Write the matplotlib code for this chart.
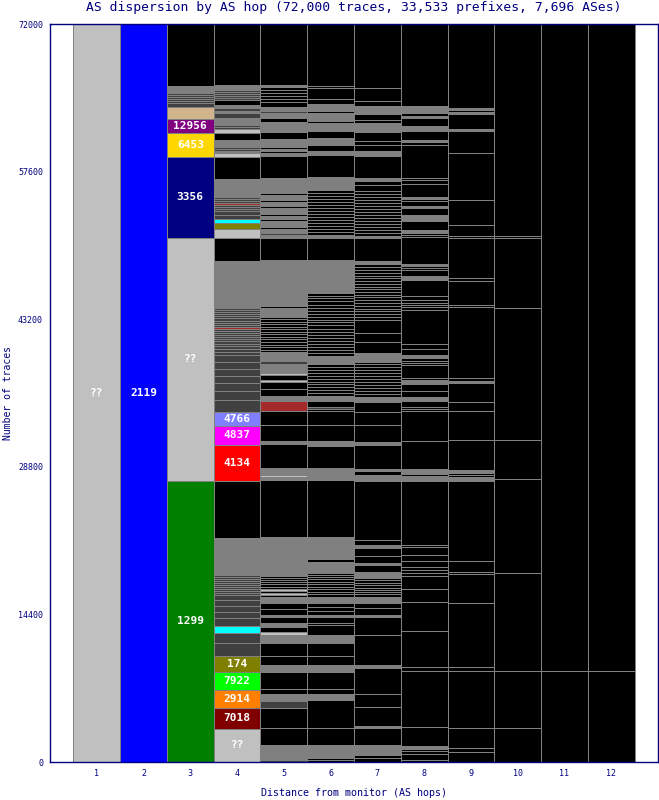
import matplotlib
matplotlib.use("Agg")
import matplotlib.pyplot as plt

# colours of the plain segment kinds
kind_colors = {'k': '#000000', 'g': '#808080', 'd': '#404040', 'l': '#c0c0c0',
               'r': '#a52a2a', 'c': '#00ffff', 'o': '#808000', 't': '#d2b48c'}

# colours of the labelled ASes
as_colors = {'??': '#c0c0c0', '2119': '#0000ff', '1299': '#008000', '3356': '#000080',
             '6453': '#ffd700', '12956': '#800080', '4134': '#ff0000', '4837': '#ff00ff',
             '4766': '#8080ff', '174': '#808000', '7922': '#00ff00', '2914': '#ff8000',
             '7018': '#800000'}

# segments per hop, bottom to top: (traces, kind or AS)
hop1 = [(72000, '??')]
hop2 = [(72000, '2119')]
hop3 = [(27420, '1299'), (23710, '??'), (7900, '3356'), (2340, '6453'), (1370, '12956'),
        (1170, 't'), (390, 'd'), (200, 'd'), (200, 'd'), (190, 'd'), (200, 'd'), (190, 'd'),
        (680, 'g'), (6100, 'k')]
hop4 = [(3220, '??'), (2050, '7018'), (1760, '2914'), (1760, '7922'), (1560, '174'),
        (1270, 'd'), (980, 'd'), (680, 'c'), (780, 'd'), (590, 'd'), (590, 'd'), (590, 'd'),
        (490, 'd'), (200, 'd'), (190, 'd'), (200, 'd'), (190, 'd'), (200, 'd'), (200, 'd'),
        (190, 'd'), (200, 'd'), (190, 'd'), (200, 'd'),
        (3610, 'g'), (5560, 'k'),
        (3510, '4134'), (1850, '4837'), (1370, '4766'),
        (1170, 'd'), (880, 'd'), (780, 'd'), (680, 'd'), (680, 'd'), (680, 'd'), (680, 'd'),
        (290, 'd'), (290, 'd'), (240, 'd'), (240, 'd'), (240, 'd'), (240, 'd'), (200, 'd'),
        (200, 'd'), (200, 'd'), (200, 'd'), (200, 'd'), (200, 'r'), (200, 'd'), (200, 'd'),
        (200, 'd'), (200, 'd'), (200, 'd'), (200, 'd'), (200, 'd'), (200, 'd'), (200, 'd'),
        (4590, 'g'), (2240, 'k'), (880, 'l'), (590, 'o'), (390, 'c'), (390, 'd'), (390, 'd'),
        (200, 'd'), (200, 'd'), (200, 'd'), (200, 'r'), (200, 'd'), (200, 'd'), (200, 'd'),
        (1760, 'g'), (2150, 'k'), (390, 'l'), (200, 'g'), (200, 'd'), (200, 'd'), (680, 'g'),
        (680, 'k'), (390, 'l'), (200, 'd'), (200, 'd'), (290, 'g'), (390, 'g'), (490, 'd'),
        (200, 'g'), (200, 'd'), (290, 'g'), (490, 'k'), (200, 'd'), (200, 'd'), (200, 'd'),
        (200, 'd'), (180, 'd'), (490, 'g'), (6100, 'k')]
hop5 = [(200, 'd'), (1460, 'g'), (1660, 'k'), (1950, 'k'), (680, 'd'), (680, 'g'), (490, 'k'),
        (1660, 'k'), (680, 'g'), (880, 'k'), (1270, 'k'), (780, 'g'), (290, 'l'), (490, 'k'),
        (390, 'g'), (590, 'k'), (200, 'g'), (590, 'k'), (590, 'k'), (590, 'g'),
        (200, 'k'), (200, 'l'), (200, 'k'), (200, 'l'), (200, 'k'), (200, 'k'), (200, 'k'),
        (200, 'k'), (200, 'k'), (200, 'k'),
        (3800, 'g'), (5560, 'k'),
        (290, 'g'), (200, 'l'), (100, 'd'), (590, 'g'), (2340, 'k'), (290, 'g'), (1560, 'k'),
        (1370, 'k'), (980, 'r'), (490, 'g'), (680, 'k'), (680, 'k'), (200, 'l'), (490, 'k'),
        (200, 'l'), (880, 'g'), (290, 'd'), (880, 'g'),
        (250, 'k'), (240, 'k'), (250, 'k'), (240, 'k'), (250, 'k'), (240, 'k'), (250, 'k'),
        (240, 'k'), (250, 'k'), (240, 'k'), (250, 'k'), (240, 'k'), (250, 'k'), (230, 'k'),
        (880, 'g'), (200, 'k'), (4490, 'g'), (2150, 'k'),
        (290, 'g'), (200, 'd'), (390, 'g'), (200, 'k'), (590, 'g'), (200, 'k'), (290, 'g'),
        (200, 'k'), (590, 'g'), (200, 'k'), (390, 'g'), (200, 'k'), (490, 'g'), (200, 'k'),
        (1420, 'g'), (2150, 'k'), (290, 'g'), (200, 'k'), (200, 'g'), (200, 'k'), (780, 'g'),
        (680, 'k'), (980, 'g'), (390, 'k'), (490, 'g'), (200, 'd'), (390, 'g'),
        (490, 'k'), (290, 'k'), (290, 'k'), (290, 'k'), (290, 'k'), (290, 'k'), (200, 'g'),
        (6200, 'k')]
hop6 = [(200, 'k'), (200, 'k'), (1270, 'g'), (1660, 'k'), (2730, 'k'), (590, 'g'), (490, 'k'),
        (1660, 'k'), (680, 'g'), (880, 'k'), (1270, 'k'), (780, 'g'),
        (980, 'k'), (200, 'k'), (590, 'k'), (200, 'g'), (390, 'k'), (390, 'k'), (390, 'k'),
        (590, 'g'),
        (250, 'k'), (230, 'k'), (240, 'k'), (230, 'k'), (250, 'k'), (230, 'k'), (240, 'k'),
        (230, 'k'), (240, 'k'), (200, 'k'),
        (490, 'g'), (100, 'k'), (490, 'g'), (200, 'k'), (2150, 'g'), (5560, 'k'),
        (490, 'g'), (100, 'k'), (590, 'g'), (2150, 'k'), (490, 'g'), (1560, 'k'), (1370, 'k'),
        (200, 'k'), (200, 'd'), (590, 'k'), (490, 'g'),
        (300, 'k'), (300, 'k'), (250, 'k'), (300, 'k'), (250, 'k'), (300, 'k'), (300, 'k'),
        (250, 'k'), (300, 'k'), (300, 'k'), (270, 'k'),
        (780, 'g'),
        (300, 'k'), (300, 'k'), (250, 'k'), (350, 'k'), (300, 'k'), (300, 'k'), (250, 'k'),
        (300, 'k'), (300, 'k'), (350, 'k'), (300, 'k'), (250, 'k'), (300, 'k'), (300, 'k'),
        (250, 'k'), (300, 'k'), (300, 'k'), (350, 'k'), (300, 'k'), (250, 'k'), (300, 'k'),
        (780, 'g'), (100, 'k'), (390, 'g'), (100, 'k'), (1850, 'g'), (2150, 'k'), (200, 'g'),
        (300, 'k'), (290, 'k'), (300, 'k'), (280, 'k'), (300, 'k'), (290, 'k'), (300, 'k'),
        (290, 'k'), (300, 'k'), (280, 'k'), (300, 'k'), (290, 'k'), (300, 'k'), (290, 'k'),
        (280, 'k'),
        (1270, 'g'), (2150, 'k'), (390, 'g'), (590, 'k'), (680, 'g'), (680, 'k'),
        (780, 'g'), (200, 'k'), (780, 'g'), (200, 'k'), (670, 'g'),
        (490, 'k'), (1070, 'k'), (200, 'k'), (6300, 'k')]
hop7 = [(390, 'k'), (290, 'k'), (980, 'g'), (1660, 'k'), (200, 'g'), (1850, 'k'), (1270, 'k'),
        (2540, 'k'), (290, 'g'), (2930, 'k'),
        (1760, 'k'), (200, 'g'), (680, 'k'), (490, 'k'), (590, 'g'),
        (250, 'k'), (200, 'k'), (250, 'k'), (200, 'k'), (250, 'k'), (200, 'k'), (250, 'k'),
        (250, 'k'),
        (590, 'g'), (680, 'k'), (200, 'g'), (680, 'k'), (780, 'k'), (290, 'g'), (490, 'k'),
        (5760, 'k'),
        (590, 'g'), (390, 'k'), (200, 'g'), (2340, 'k'),
        (290, 'g'), (1660, 'k'), (1270, 'k'), (980, 'k'), (490, 'g'),
        (300, 'k'), (250, 'k'), (300, 'k'), (300, 'k'), (250, 'k'), (350, 'k'), (300, 'k'),
        (250, 'k'), (300, 'k'), (300, 'k'), (250, 'k'), (260, 'k'),
        (880, 'g'), (1070, 'k'), (880, 'k'), (1270, 'k'),
        (270, 'k'), (280, 'k'), (260, 'k'), (270, 'k'), (280, 'k'), (250, 'k'), (270, 'k'),
        (280, 'k'), (260, 'k'), (270, 'k'), (280, 'k'), (250, 'k'), (270, 'k'), (280, 'k'),
        (260, 'k'), (270, 'k'), (280, 'k'), (250, 'k'), (270, 'k'), (290, 'k'),
        (290, 'g'), (2240, 'k'), (200, 'g'),
        (290, 'k'), (300, 'k'), (280, 'k'), (300, 'k'), (290, 'k'), (300, 'k'), (290, 'k'),
        (300, 'k'), (280, 'k'), (300, 'k'), (290, 'k'), (300, 'k'), (290, 'k'), (300, 'k'),
        (280, 'k'),
        (590, 'k'), (390, 'k'), (290, 'g'), (2150, 'k'), (490, 'g'), (590, 'k'), (390, 'k'),
        (880, 'k'), (880, 'g'), (290, 'k'), (590, 'k'), (780, 'g'), (490, 'k'), (1270, 'k'),
        (6400, 'k')]
hop8 = [(200, 'k'), (590, 'k'), (290, 'k'), (200, 'k'), (290, 'g'), (1850, 'k'), (5460, 'k'),
        (390, 'k'), (3510, 'k'), (2830, 'k'), (1270, 'k'), (1270, 'k'), (290, 'k'), (290, 'k'),
        (290, 'k'), (590, 'k'), (590, 'k'), (780, 'k'), (200, 'k'), (6240, 'k'), (490, 'g'),
        (200, 'k'), (490, 'g'), (2730, 'k'), (2930, 'k'), (200, 'k'), (200, 'k'), (590, 'k'),
        (390, 'g'), (590, 'k'), (680, 'k'), (390, 'g'), (200, 'k'), (1270, 'k'), (200, 'k'),
        (200, 'k'), (200, 'k'), (290, 'g'), (590, 'k'), (490, 'k'), (3320, 'k'), (290, 'k'),
        (200, 'k'), (200, 'k'), (290, 'k'), (390, 'k'), (1560, 'k'), (390, 'g'), (590, 'k'),
        (200, 'k'), (200, 'k'), (200, 'g'), (2630, 'k'), (200, 'k'), (200, 'k'), (290, 'g'),
        (880, 'k'), (590, 'g'), (680, 'k'), (200, 'g'), (490, 'k'), (200, 'k'), (200, 'g'),
        (1270, 'k'), (390, 'k'), (200, 'k'), (3220, 'k'), (290, 'k'), (200, 'g'), (880, 'k'),
        (490, 'g'), (780, 'k'), (200, 'g'), (290, 'k'), (290, 'g'), (100, 'k'), (290, 'g'),
        (8100, 'k')]
hop9 = [(980, 'k'), (390, 'k'), (1950, 'k'), (5560, 'k'), (390, 'k'), (6240, 'k'), (2830, 'k'),
        (200, 'k'), (1070, 'k'), (7800, 'k'), (390, 'g'), (200, 'k'), (200, 'k'), (290, 'g'),
        (2930, 'k'), (2830, 'k'), (880, 'k'), (1850, 'k'), (200, 'g'), (290, 'k'), (6930, 'k'),
        (200, 'k'), (2340, 'k'), (290, 'k'), (3900, 'k'), (200, 'k'), (1070, 'k'), (2440, 'k'),
        (4590, 'k'), (2150, 'k'), (200, 'g'), (1460, 'k'), (200, 'g'), (200, 'k'), (200, 'g'),
        (8200, 'k')]
hop10 = [(3320, 'k'), (5560, 'k'), (9560, 'k'), (9170, 'k'), (3800, 'k'), (12880, 'k'),
         (6830, 'k'), (200, 'k'), (20700, 'k')]
hop11 = [(8880, 'k'), (63200, 'k')]
hop12 = [(8880, 'k'), (63200, 'k')]

hops = [hop1, hop2, hop3, hop4, hop5, hop6, hop7, hop8, hop9, hop10, hop11, hop12]
yticks = [0, 14400, 28800, 43200, 57600, 72000]

navy = '#000080'
mono = 'DejaVu Sans Mono'

fig = plt.figure(figsize=(6.59, 8.0), dpi=100)
ax = fig.add_axes([50 / 659, 38 / 800, 608 / 659, 738 / 800])

for i, segs in enumerate(hops):
    x = i + 1
    bottom = 0
    for h, kind in segs:
        if kind in as_colors:
            col = as_colors[kind]
        else:
            col = kind_colors[kind]
        ax.bar(x, h, bottom=bottom, width=1.0, color=col, edgecolor='#808080',
               linewidth=0.6, antialiased=False)
        if kind in as_colors:
            ax.text(x, bottom + h / 2, kind, color='white', ha='center', va='center',
                    fontsize=8, fontweight='bold', family=mono)
        bottom += h

ax.set_xlim(0, 13)
ax.set_ylim(0, 72000)
ax.set_xticks(range(1, 13))
ax.set_xticklabels([str(n) for n in range(1, 13)], family=mono, fontsize=6, color=navy)
ax.set_yticks(yticks)
ax.set_yticklabels([str(v) for v in yticks], family=mono, fontsize=6, color=navy)
ax.tick_params(axis='both', length=0, pad=5, colors=navy)
for s in ax.spines.values():
    s.set_color(navy)
    s.set_linewidth(1.0)

fig.text(354 / 659, 1 - 8 / 800,
         'AS dispersion by AS hop (72,000 traces, 33,533 prefixes, 7,696 ASes)',
         ha='center', va='center', family=mono, fontsize=9.4, color=navy)
fig.text(354 / 659, 1 - 793 / 800, 'Distance from monitor (AS hops)',
         ha='center', va='center', family=mono, fontsize=7.2, color=navy)
fig.text(8 / 659, 1 - 393 / 800, 'Number of traces', rotation=90,
         ha='center', va='center', family=mono, fontsize=7, color=navy)

fig.savefig('out.png', dpi=100)
